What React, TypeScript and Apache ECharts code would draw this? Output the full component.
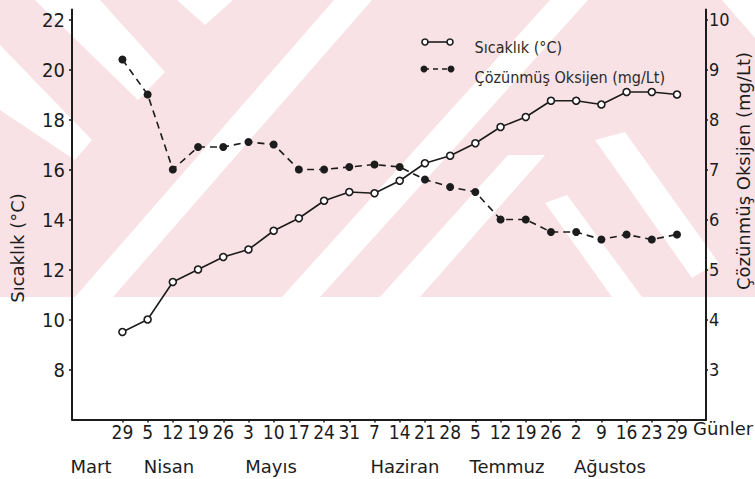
import React, { useEffect, useRef } from "react";
import * as echarts from "echarts";

// Sampling days (x axis tick labels)
const dayLabels = ["29", "5", "12", "19", "26", "3", "10", "17", "24", "31", "7", "14", "21", "28", "5", "12", "19", "26", "2", "9", "16", "23", "29"];
// Sıcaklık (°C)
const temperature = [9.5, 10.0, 11.5, 12.0, 12.5, 12.8, 13.55, 14.05, 14.75, 15.1, 15.05, 15.55, 16.25, 16.55, 17.05, 17.7, 18.1, 18.75, 18.75, 18.6, 19.1, 19.1, 19.0];
// Çözünmüş Oksijen (mg/Lt)
const oxygen = [9.2, 8.5, 7.0, 7.45, 7.45, 7.55, 7.5, 7.0, 7.0, 7.05, 7.1, 7.05, 6.8, 6.65, 6.55, 6.0, 6.0, 5.75, 5.75, 5.6, 5.7, 5.6, 5.7];
const months = ["Mart", "Nisan", "Mayıs", "Haziran", "Temmuz", "Ağustos"];
const leftTicks = [8, 10, 12, 14, 16, 18, 20, 22];
const rightTicks = [3, 4, 5, 6, 7, 8, 9, 10];
const seriesNames = ["Sıcaklık (°C)", "Çözünmüş Oksijen (mg/Lt)"];

// layout constants
const monthX = [91, 169, 271, 405, 507, 610];
const INK = "#1c1c1c";
const PINK = "#f9e2e5";

const whitePolys: number[][][] = [
  [[35, 0], [100, 0], [165, 72], [138, 100]],
  [[0, 45], [92, 140], [75, 160], [0, 110]],
  [[177, 0], [233, 0], [205, 25]],
  [[75, 297], [113, 297], [372, 0], [334, 0]],
  [[282, 297], [320, 297], [588, 0], [550, 0]],
  [[380, 297], [420, 297], [545, 155], [508, 155]],
  [[595, 140], [625, 132], [718, 262], [692, 278]],
  [[545, 203], [567, 195], [642, 297], [612, 297]],
  [[722, 0], [755, 0], [755, 38]],
];

export default function App() {
  const ref = useRef<HTMLDivElement>(null);
  useEffect(() => {
    const chart = echarts.init(ref.current!, null, { renderer: "svg" });
    const idx = dayLabels.map((_, i) => i);
    const graphic: any[] = [
      { type: "rect", silent: true, z: -20, shape: { x: 0, y: 0, width: 755, height: 297 }, style: { fill: PINK } },
      ...whitePolys.map((p) => ({ type: "polygon", silent: true, z: -19, shape: { points: p }, style: { fill: "#ffffff" } })),
      ...months.map((m, i) => ({
        type: "text", x: monthX[i], y: 466,
        style: { text: m, fontSize: 18, fontFamily: "DejaVu Sans", fill: INK, align: "center", verticalAlign: "middle" },
      })),
      {
        type: "text", x: 17, y: 248, rotation: Math.PI / 2,
        style: { text: "Sıcaklık (°C)", fontSize: 18, fontFamily: "DejaVu Sans", fill: INK, align: "center", verticalAlign: "middle" },
      },
      {
        type: "text", x: 743, y: 171, rotation: Math.PI / 2,
        style: { text: "Çözünmüş Oksijen (mg/Lt)", fontSize: 18, fontFamily: "DejaVu Sans", fill: INK, align: "center", verticalAlign: "middle" },
      },
      {
        type: "text", x: 693, y: 428,
        style: { text: "Günler", fontSize: 18, fontFamily: "DejaVu Sans", fill: INK, align: "left", verticalAlign: "middle" },
      },
      // legend icons
      { type: "line", shape: { x1: 425, y1: 42, x2: 450, y2: 42 }, style: { stroke: INK, lineWidth: 1.6 } },
      { type: "circle", shape: { cx: 425, cy: 42, r: 3 }, style: { fill: "#fff", stroke: INK, lineWidth: 1.6 } },
      { type: "circle", shape: { cx: 450, cy: 42, r: 3 }, style: { fill: "#fff", stroke: INK, lineWidth: 1.6 } },
      { type: "line", shape: { x1: 424, y1: 69, x2: 451, y2: 69 }, style: { stroke: INK, lineWidth: 1.6, lineDash: [5, 4] } },
      { type: "circle", shape: { cx: 424, cy: 69, r: 3.5 }, style: { fill: INK } },
      { type: "circle", shape: { cx: 451, cy: 69, r: 3.5 }, style: { fill: INK } },
    ];

    const option: any = {
      animation: false,
      backgroundColor: "#ffffff",
      textStyle: { fontFamily: "DejaVu Sans", color: INK },
      grid: { left: 72, right: 49, top: 9.5, bottom: 59.5, containLabel: false, outerBoundsMode: "none" },
      legend: {
        orient: "vertical",
        left: 453,
        top: 34.5,
        itemWidth: 10,
        itemHeight: 14,
        itemGap: 14,
        itemStyle: { opacity: 0 },
        lineStyle: { opacity: 0 },
        textStyle: { fontFamily: "DejaVu Sans Condensed", fontSize: 16, color: "#2a2a2a" },
        data: seriesNames,
      },
      xAxis: {
        type: "value",
        min: -2,
        max: 23.15,
        splitLine: { show: false },
        axisLine: { onZero: false, lineStyle: { color: INK, width: 2 } },
        axisTick: { customValues: idx, length: 3, lineStyle: { color: INK, width: 1.5 } },
        axisLabel: {
          customValues: idx,
          margin: 3,
          fontSize: 19,
          fontFamily: "'Liberation Sans Narrow', 'DejaVu Sans Condensed', sans-serif",
          color: INK,
          formatter: (v: number) => dayLabels[Math.round(v)] ?? "",
        },
      },
      yAxis: [
        {
          type: "value",
          position: "left",
          min: 6,
          max: 22.4,
          interval: 2,
          splitLine: { show: false },
          axisLine: { show: true, onZero: false, lineStyle: { color: INK, width: 2 } },
          axisTick: { show: true, customValues: leftTicks, length: 3, lineStyle: { color: INK, width: 1.5 } },
          axisLabel: {
            customValues: leftTicks,
            margin: 7,
            fontSize: 20,
            fontFamily: "'DejaVu Sans Condensed', sans-serif",
            color: INK,
          },
        },
        {
          type: "value",
          position: "right",
          min: 2,
          max: 10.2,
          interval: 1,
          splitLine: { show: false },
          axisLine: { show: true, onZero: false, lineStyle: { color: INK, width: 2 } },
          axisTick: { show: true, customValues: rightTicks, length: 2, lineStyle: { color: INK, width: 1.5 } },
          axisLabel: {
            customValues: rightTicks,
            margin: 3,
            fontSize: 18,
            fontFamily: "'DejaVu Sans Condensed', sans-serif",
            color: INK,
          },
        },
      ],
      graphic,
      series: [
        {
          name: seriesNames[0],
          type: "line",
          yAxisIndex: 0,
          data: idx.map((i) => [i, temperature[i]]),
          symbol: "circle",
          symbolSize: 7,
          lineStyle: { color: INK, width: 1.6 },
          itemStyle: { color: "#ffffff", borderColor: INK, borderWidth: 1.6 },
          z: 3,
        },
        {
          name: seriesNames[1],
          type: "line",
          yAxisIndex: 1,
          data: idx.map((i) => [i, oxygen[i]]),
          symbol: "circle",
          symbolSize: 8,
          lineStyle: { color: INK, width: 1.6, type: [7, 5] },
          itemStyle: { color: INK, borderColor: INK, borderWidth: 0 },
          z: 2,
        },
      ],
    };
    chart.setOption(option);
    return () => chart.dispose();
  }, []);
  return (
    <div
      ref={ref}
      style={{ position: "fixed", left: 0, top: 0, width: 755, height: 479, background: "#fff" }}
    />
  );
}
